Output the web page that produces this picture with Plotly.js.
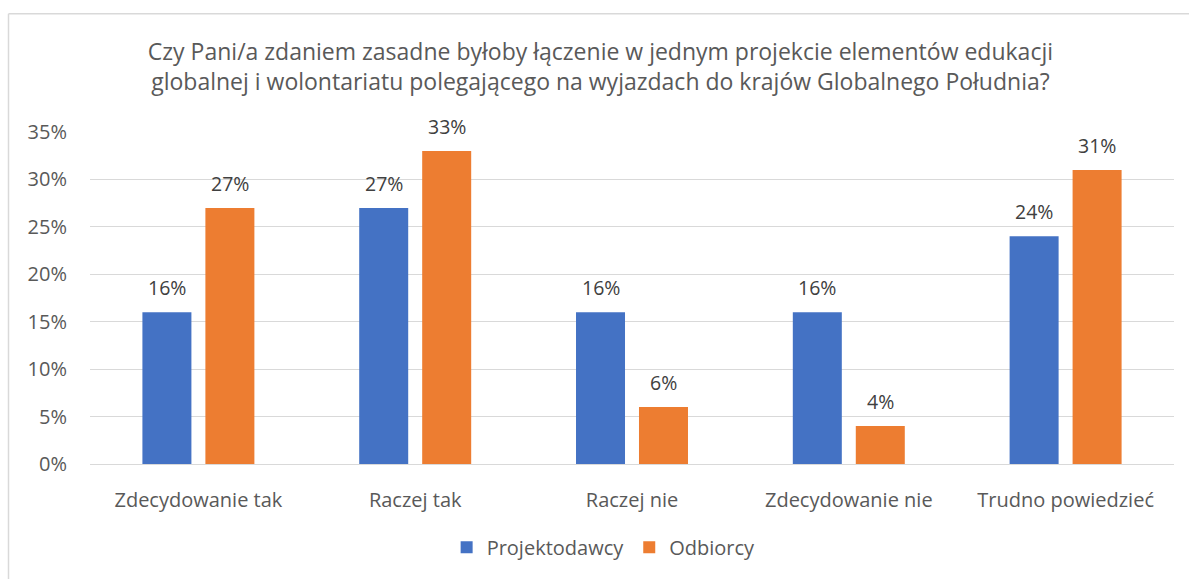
<!DOCTYPE html>
<html>
<head>
<meta charset="utf-8">
<script src="https://cdn.plot.ly/plotly-3.0.1.min.js"></script>
<style>
html,body{margin:0;padding:0;background:#fff;}
#chart{width:1189px;height:579px;}
</style>
</head>
<body>
<div id="chart"></div>
<script>
const categories = ["Zdecydowanie tak", "Raczej tak", "Raczej nie", "Zdecydowanie nie", "Trudno powiedzieć"];
const projektodawcy = [0.16, 0.27, 0.16, 0.16, 0.24];
const odbiorcy = [0.27, 0.33, 0.06, 0.04, 0.31];
const seriesNames = ["Projektodawcy", "Odbiorcy"];
const yTickVals = [0, 0.05, 0.10, 0.15, 0.20, 0.25, 0.30, 0.35];
const yTickText = ["0%", "5%", "10%", "15%", "20%", "25%", "30%", "35%"];
const titleText = "Czy Pani/a zdaniem zasadne byłoby łączenie w jednym projekcie elementów edukacji<br>globalnej i wolontariatu polegającego na wyjazdach do krajów Globalnego Południa?";

const fontFam = "'Open Sans', 'Noto Sans', sans-serif";
const pct = v => Math.round(v * 100) + "%";

const traces = [
  {type: "bar", name: seriesNames[0], x: categories, y: projektodawcy,
   marker: {color: "#4472C4"}, hoverinfo: "skip"},
  {type: "bar", name: seriesNames[1], x: categories, y: odbiorcy,
   marker: {color: "#ED7D31"}, hoverinfo: "skip"}
];

// data labels as annotations, offset by half a bar slot
const slotShift = 31.5;
const annotations = [];
[projektodawcy, odbiorcy].forEach((series, si) => {
  series.forEach((v, i) => {
    annotations.push({
      x: categories[i], y: v, xref: "x", yref: "y",
      text: pct(v), showarrow: false, yanchor: "bottom",
      xshift: si === 0 ? -slotShift : slotShift, yshift: 9,
      font: {size: 19.5, color: "#404040", family: fontFam}
    });
  });
});

const W = 1084, H = 334;
const layout = {
  width: 1189, height: 579,
  margin: {l: 90, r: 15, t: 132, b: 113},
  paper_bgcolor: "#ffffff", plot_bgcolor: "#ffffff",
  font: {family: fontFam, color: "#595959", size: 20},
  title: {text: titleText, x: 0.505, xanchor: "center", y: 0.897, yanchor: "top",
          font: {size: 23, color: "#595959", family: fontFam}},
  barmode: "group", bargap: 0.419, bargroupgap: 0.222,
  showlegend: true,
  legend: {orientation: "h", x: 0.329, xanchor: "left", y: -0.251, yanchor: "middle",
           font: {size: 20, color: "#595959", family: fontFam}, itemwidth: 30, traceorder: "normal"},
  xaxis: {tickfont: {size: 20, color: "#595959"}, showline: false, ticks: "", showgrid: false,
          ticklabelstandoff: 22, fixedrange: true},
  yaxis: {range: [0, 0.35], tickvals: yTickVals, ticktext: yTickText, showgrid: true,
          gridcolor: "#d9d9d9", gridwidth: 1, zeroline: true, zerolinecolor: "#d9d9d9", zerolinewidth: 1,
          showline: false, ticks: "", ticklabelstandoff: 22, tickfont: {size: 20, color: "#595959"}, fixedrange: true},
  annotations: annotations,
  shapes: [
    {type: "line", xref: "paper", yref: "paper", x0: (8.5 - 90) / W, x1: (8.5 - 90) / W,
     y0: (466 - 13) / H, y1: -0.5, line: {color: "#d9d9d9", width: 1.5}},
    {type: "line", xref: "paper", yref: "paper", x0: (8.5 - 90) / W, x1: 1.1,
     y0: (466 - 13) / H, y1: (466 - 13) / H, line: {color: "#d9d9d9", width: 1.5}}
  ]
};

Plotly.newPlot("chart", traces, layout, {displayModeBar: false, staticPlot: true});
</script>
</body>
</html>
